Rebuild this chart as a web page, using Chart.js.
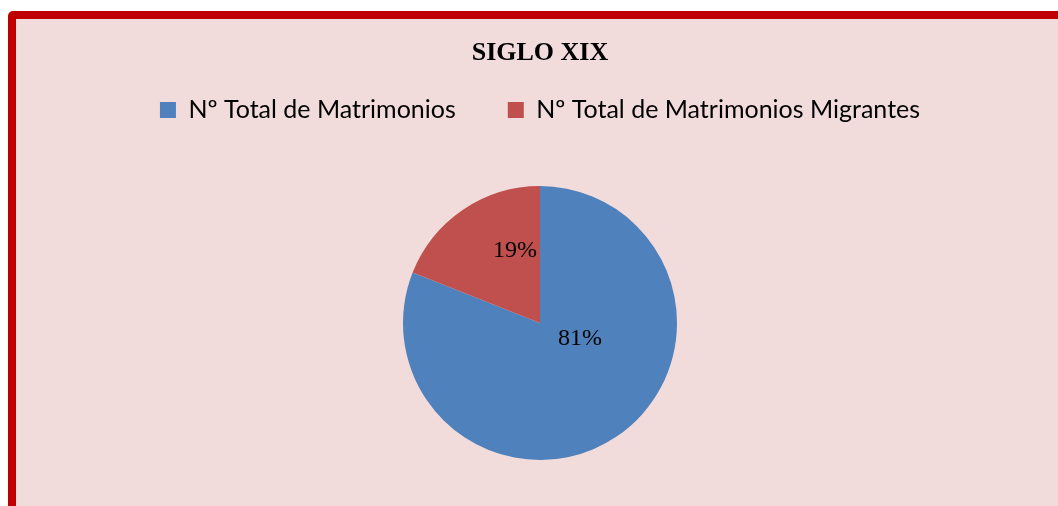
<!DOCTYPE html>
<html>
<head>
<meta charset="utf-8">
<script src="https://cdn.jsdelivr.net/npm/chart.js@4/dist/chart.umd.min.js"></script>
<style>
  html, body { margin: 0; padding: 0; background: #ffffff; width: 1058px; height: 506px; overflow: hidden; }
  #frame {
    position: absolute; left: 8px; top: 11px; width: 1100px; height: 600px;
    border: 8px solid #C00000; border-radius: 5px; background: #F2DCDB; box-sizing: border-box;
  }
  #wrap { position: absolute; left: 16px; top: 19px; width: 1048px; height: 487px; }
</style>
</head>
<body>
<div id="frame"></div>
<div id="wrap"><canvas id="c"></canvas></div>
<script>
const titleText = 'SIGLO XIX';
const categories = ['Nº Total de Matrimonios', 'Nº Total de Matrimonios Migrantes'];
const values = [81, 19];
const colors = ['#4F81BD', '#C0504D'];

// label anchor inside each slice: fraction along the arc, fraction of radius
const labelPlacement = [
  { along: 0.383, radial: 0.314 },
  { along: 0.72, radial: 0.555 }
];

const pctLabels = {
  id: 'pctLabels',
  afterDatasetsDraw(chart) {
    const ctx = chart.ctx;
    const meta = chart.getDatasetMeta(0);
    const total = values.reduce((a, b) => a + b, 0);
    ctx.save();
    ctx.font = '24px "Liberation Serif", "Times New Roman", serif';
    ctx.fillStyle = '#000000';
    ctx.textAlign = 'center';
    ctx.textBaseline = 'middle';
    meta.data.forEach((arc, i) => {
      const p = labelPlacement[i];
      const a = arc.startAngle + (arc.endAngle - arc.startAngle) * p.along;
      const r = arc.outerRadius * p.radial;
      const x = arc.x + Math.cos(a) * r;
      const y = arc.y + Math.sin(a) * r;
      ctx.fillText(Math.round(values[i] / total * 100) + '%', x, y);
    });
    ctx.restore();
  }
};

// extra space below the legend before the pie
const legendSpacer = {
  id: 'legendSpacer',
  beforeInit(chart) {
    const origFit = chart.legend.fit;
    chart.legend.fit = function () {
      origFit.call(this);
      this.height += 53.5;
    };
  }
};

new Chart(document.getElementById('c'), {
  type: 'pie',
  data: {
    labels: categories,
    datasets: [{ data: values, backgroundColor: colors, borderWidth: 0 }]
  },
  options: {
    responsive: true,
    maintainAspectRatio: false,
    animation: false,
    layout: { padding: { bottom: 46 } },
    plugins: {
      tooltip: { enabled: false },
      title: {
        display: true,
        text: titleText,
        color: '#000000',
        font: { family: '"Liberation Serif", "Times New Roman", serif', size: 26, weight: 'bold', lineHeight: 1.2 },
        padding: { top: 19, bottom: -23.7 }
      },
      legend: {
        display: true,
        position: 'top',
        labels: {
          color: '#000000',
          boxWidth: 16,
          boxHeight: 16,
          padding: 52,
          font: { family: 'Lato, "Noto Sans", sans-serif', size: 25 }
        }
      }
    }
  },
  plugins: [pctLabels, legendSpacer]
});
</script>
</body>
</html>
